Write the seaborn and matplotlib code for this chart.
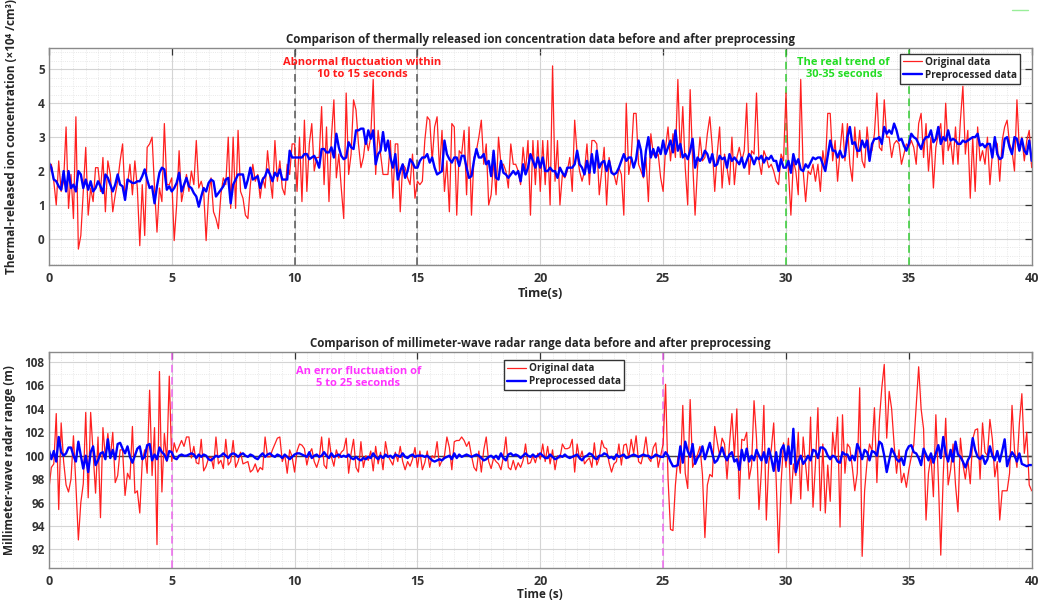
import numpy as np
import matplotlib
matplotlib.use('Agg')
import matplotlib.pyplot as plt
import seaborn as sns
from matplotlib.ticker import MultipleLocator
from matplotlib.lines import Line2D

sns.set_style('white')
plt.rcParams['font.family'] = ['Open Sans', 'DejaVu Sans']
plt.rcParams['font.weight'] = 'bold'
plt.rcParams['axes.labelweight'] = 'bold'

# thermal-released ion concentration, sampled every 0.1 s
ion_original = [
    1.9, 2.2, 1.7, 1.0, 2.3, 1.4, 1.7, 3.3, 0.9, 1.9,
    0.6, 3.6, -0.3, 0.1, 1.4, 2.7, 0.7, 1.5, 1.1, 2.1,
    2.1, 1.4, 2.4, 0.8, 2.3, 1.9, 0.8, 1.3, 1.7, 2.3,
    2.8, 1.2, 1.6, 2.2, 1.3, 2.3, 1.5, -0.2, 1.6, 0.1,
    2.7, 2.8, 3.0, 1.5, 0.2, 1.5, 1.1, 3.4, 1.6, 1.6,
    1.8, -0.05, 1.0, 2.6, 1.1, 1.5, 1.9, 1.4, 2.0, 1.6,
    2.9, 1.5, 1.7, 1.4, -0.05, 1.3, 1.8, 0.8, 0.6, 0.3,
    1.3, 1.8, 1.6, 3.0, 0.9, 3.0, 0.9, 3.2, 1.4, 1.2,
    0.7, 0.6, 1.6, 2.2, 1.7, 1.9, 1.2, 1.8, 1.5, 2.6,
    1.8, 1.2, 2.9, 1.7, 2.3, 1.5, 1.3, 2.2, 1.9, 2.8,
    2.8, 1.4, 3.0, 1.1, 3.5, 1.4, 2.8, 3.4, 2.0, 2.4,
    2.4, 3.9, 1.6, 3.3, 1.1, 3.0, 4.1, 1.8, 2.5, 1.5,
    0.6, 4.3, 1.9, 2.5, 4.1, 3.8, 2.8, 2.1, 2.4, 3.0,
    2.6, 3.0, 4.7, 1.9, 3.2, 2.5, 1.9, 1.9, 1.9, 2.9,
    1.2, 2.8, 2.8, 0.8, 2.2, 2.1, 1.8, 1.6, 2.5, 1.2,
    1.7, 1.6, 1.7, 2.9, 3.6, 3.5, 2.3, 3.3, 3.6, 2.0,
    3.2, 1.4, 2.3, 0.8, 3.4, 3.3, 0.7, 2.6, 2.5, 3.2,
    1.3, 3.3, 0.7, 2.4, 2.6, 3.0, 3.5, 2.2, 2.8, 1.0,
    1.3, 2.3, 1.3, 3.0, 2.2, 2.2, 2.0, 1.5, 2.8, 2.2,
    2.2, 2.0, 1.6, 2.7, 2.0, 2.9, 0.7, 2.9, 1.6, 2.9,
    1.4, 2.9, 1.6, 2.9, 1.0, 5.1, 1.7, 2.9, 1.0, 1.9,
    1.8, 2.0, 2.4, 1.4, 3.5, 2.5, 2.0, 1.7, 2.0, 2.8,
    1.6, 2.9, 2.9, 2.8, 1.3, 2.0, 2.7, 1.0, 2.4, 2.0,
    1.9, 1.6, 2.1, 1.9, 0.7, 4.0, 1.9, 2.4, 3.7, 3.7,
    2.2, 2.0, 1.8, 2.4, 1.1, 3.1, 2.5, 2.4, 2.5, 1.8,
    1.4, 2.7, 3.3, 2.3, 3.1, 2.4, 4.7, 2.4, 3.9, 2.1,
    1.0, 4.4, 2.3, 0.7, 2.1, 3.0, 2.3, 2.4, 3.1, 3.6,
    2.7, 1.4, 2.5, 3.3, 1.5, 2.5, 2.1, 1.6, 3.0, 1.6,
    2.4, 2.7, 2.3, 2.6, 4.0, 1.9, 2.6, 2.5, 4.3, 2.3,
    1.9, 2.6, 2.4, 2.1, 2.2, 2.0, 1.7, 1.6, 2.5, 2.3,
    4.3, 2.0, 0.7, 2.3, 2.0, 1.3, 4.7, 2.0, 1.1, 2.0,
    1.9, 2.2, 1.7, 2.2, 1.4, 2.6, 2.1, 3.7, 3.7, 2.3,
    2.9, 1.7, 2.6, 3.4, 2.3, 3.4, 2.2, 1.7, 3.3, 2.4,
    3.2, 2.3, 2.1, 3.3, 2.5, 2.6, 3.1, 4.3, 2.7, 2.6,
    4.1, 3.0, 3.0, 2.4, 2.8, 2.9, 2.8, 2.2, 2.5, 2.8,
    2.7, 2.9, 2.7, 2.2, 3.4, 3.7, 2.4, 3.4, 2.0, 3.0,
    1.5, 2.7, 3.1, 3.4, 2.2, 4.0, 2.6, 2.9, 2.2, 3.3,
    2.2, 3.5, 4.5, 2.5, 3.2, 1.2, 3.0, 1.4, 3.3, 2.3,
    2.6, 2.2, 3.0, 1.6, 2.5, 2.9, 2.8, 1.7, 2.9, 3.3,
    3.5, 2.8, 2.6, 2.0, 4.1, 2.6, 3.0, 2.3, 2.9, 3.2,
    2.1]

ion_processed = [
    2.25, 2.1, 1.75, 1.7, 1.55, 1.45, 2.0, 1.4, 2.0, 1.5,
    1.6, 1.4, 2.0, 1.9, 1.5, 1.75, 1.45, 1.7, 1.4, 1.5,
    1.7, 1.55, 1.35, 1.9, 1.8, 1.6, 1.4, 1.6, 1.9, 1.6,
    1.55, 1.15, 1.75, 1.7, 1.65, 1.65, 1.7, 1.7, 1.85, 2.05,
    1.75, 1.5, 1.55, 1.05, 1.55, 1.95, 2.1, 2.05, 1.45, 1.55,
    1.4, 1.5, 1.65, 1.95, 1.4, 1.6, 1.8, 1.55, 1.5, 1.35,
    1.25, 0.95, 1.25, 1.5, 1.4, 1.65, 1.75, 1.7, 1.25, 1.35,
    1.45, 1.55, 1.75, 1.8, 1.05, 1.6, 1.75, 1.9, 1.9, 1.9,
    1.5, 1.75, 2.1, 1.75, 1.8, 1.85, 1.5, 1.75, 1.85, 2.05,
    1.9, 1.7, 1.95, 1.85, 2.05, 1.75, 1.75, 1.75, 2.6, 2.4,
    2.4, 2.4, 2.4, 2.4, 2.5, 2.5, 2.35, 2.4, 2.45, 2.3,
    2.1, 2.65, 2.65, 2.55, 2.55, 2.7, 2.4, 3.1, 2.7, 2.45,
    2.35, 2.4, 2.85, 2.7, 2.65, 3.2, 3.2, 3.25, 3.25, 2.8,
    3.2, 2.95, 3.2, 2.2, 2.5, 2.6, 3.15, 2.6, 2.9, 2.4,
    2.1, 2.5, 1.75, 2.0, 2.2, 1.8, 2.0, 2.35, 2.25, 2.1,
    2.1, 2.3, 2.4, 2.4, 2.5, 2.25, 2.4, 2.1, 1.9, 1.95,
    2.0, 2.9, 2.5, 2.35, 2.25, 2.4, 2.4, 2.15, 2.45, 2.45,
    2.1, 1.8, 1.85, 2.3, 2.65, 2.4, 2.4, 2.5, 2.2, 2.3,
    1.85, 2.6, 1.8, 1.75, 2.3, 1.95, 1.9, 1.8, 1.9, 2.0,
    1.9, 2.0, 1.7, 2.2, 1.9, 2.1, 2.5, 2.3, 2.1, 2.4,
    2.1, 2.4, 2.0, 2.0, 2.1, 2.0, 2.0, 1.8, 2.1, 1.95,
    1.85, 2.1, 2.1, 2.1, 2.2, 2.6, 2.2, 2.1, 1.9, 2.3,
    1.95, 2.5, 1.95, 2.6, 2.1, 2.25, 2.3, 2.0, 2.3, 1.95,
    1.9, 1.95, 2.1, 2.3, 2.5, 2.3, 2.4, 2.4, 2.1, 2.35,
    2.9, 2.6, 1.85, 2.6, 3.0, 2.4, 2.65, 2.4, 2.7, 2.5,
    2.9, 2.5, 2.7, 2.9, 2.55, 3.2, 2.6, 2.8, 2.4, 2.5,
    2.35, 2.6, 2.95, 2.1, 2.4, 2.3, 2.4, 2.6, 2.5, 2.25,
    2.5, 2.15, 2.2, 2.45, 2.35, 2.4, 2.1, 2.5, 2.3, 2.4,
    2.3, 2.2, 2.4, 2.1, 2.3, 2.5, 2.4, 2.2, 2.4, 2.35,
    2.45, 2.25, 2.4, 2.35, 2.45, 2.3, 2.3, 2.0, 2.35, 2.1,
    2.1, 2.3, 1.95, 2.5, 2.2, 2.35, 2.05, 2.0, 2.2, 2.1,
    2.25, 2.4, 2.35, 2.4, 2.4, 2.2, 2.0, 2.45, 2.9, 2.6,
    2.6, 2.4, 2.6, 2.4, 2.45, 3.0, 3.3, 2.8, 2.85, 2.6,
    2.6, 2.9, 2.7, 2.9, 2.3, 2.8, 2.95, 2.95, 3.0, 2.8,
    3.3, 3.1, 3.2, 3.1, 3.4, 3.2, 2.9, 2.95, 2.75, 2.6,
    2.8, 3.1, 3.0, 2.95, 2.8, 2.65, 2.9, 3.0, 3.0, 3.2,
    2.85, 2.95, 3.3, 2.8, 3.0, 2.9, 3.2, 2.9, 2.95, 2.9,
    2.8, 2.8, 2.9, 2.85, 2.9, 2.95, 3.0, 3.0, 3.1, 2.75,
    2.8, 2.7, 2.8, 2.8, 2.4, 3.0, 2.5, 2.35, 2.4, 2.95,
    3.0, 2.7, 2.5, 3.0, 2.95, 2.6, 2.95, 2.6, 2.5, 2.9,
    2.3]

# millimeter-wave radar range, sampled every 0.1 s
radar_original = [
    97.1, 99.0, 99.3, 103.6, 95.4, 102.8, 99.5, 97.5, 96.9, 98.0,
    101.7, 97.5, 92.8, 96.0, 97.6, 103.7, 96.4, 103.7, 100.3, 96.8,
    101.6, 94.7, 102.4, 99.8, 101.9, 99.8, 102.0, 97.7, 98.3, 100.5,
    100.5, 96.6, 98.5, 98.0, 102.5, 96.8, 97.0, 95.1, 99.5, 100.5,
    98.5, 105.6, 98.3, 102.4, 92.4, 107.2, 96.9, 101.9, 99.5, 106.8,
    99.5, 101.1, 100.3, 100.8, 101.3, 100.8, 101.6, 101.6, 99.8, 100.8,
    99.4, 99.3, 101.4, 98.7, 99.1, 99.8, 99.9, 98.9, 101.6, 99.3,
    99.6, 98.9, 101.4, 99.2, 99.5, 101.3, 99.0, 99.5, 100.3, 99.3,
    99.4, 99.5, 98.6, 98.8, 99.3, 98.6, 99.0, 98.8, 101.6, 99.9,
    99.9, 100.5, 101.0, 101.5, 101.6, 99.5, 100.1, 98.5, 100.5, 99.9,
    98.6, 100.4, 101.0, 100.9, 100.6, 99.2, 100.2, 100.6, 99.5, 99.0,
    99.7, 101.6, 99.2, 98.9, 101.5, 99.9, 99.1, 100.5, 99.8, 100.3,
    100.5, 101.5, 98.5, 100.2, 101.4, 99.0, 98.6, 101.2, 99.0, 100.0,
    99.6, 100.4, 98.7, 100.8, 99.3, 100.3, 98.8, 101.2, 100.0, 99.6,
    99.2, 100.3, 99.5, 100.8, 99.5, 98.8, 99.5, 99.1, 99.7, 100.7,
    99.0, 100.4, 98.8, 99.4, 100.4, 99.0, 100.0, 99.8, 101.2, 99.1,
    99.6, 100.0, 101.6, 100.7, 98.8, 101.2, 101.3, 101.3, 101.6, 101.3,
    100.8, 101.2, 100.0, 99.0, 98.7, 100.4, 98.6, 100.5, 101.6, 99.5,
    98.9, 99.8, 99.5, 99.3, 98.8, 99.9, 101.6, 99.0, 98.8, 99.6,
    98.8, 99.4, 99.0, 99.6, 101.0, 99.3, 99.4, 100.0, 99.4, 100.2,
    99.7, 101.0, 99.5, 100.8, 99.3, 100.5, 98.8, 100.0, 99.8, 101.0,
    100.6, 100.6, 100.7, 101.4, 98.6, 101.0, 99.7, 100.4, 99.3, 99.6,
    99.8, 99.0, 101.1, 99.2, 99.8, 101.3, 100.7, 100.6, 99.4, 98.6,
    99.3, 99.5, 101.0, 99.2, 100.9, 101.0, 99.8, 101.4, 100.2, 101.7,
    99.5, 99.3, 100.2, 101.6, 99.8, 99.5, 100.7, 101.1, 99.0, 100.0,
    101.0, 106.1, 98.0, 93.7, 93.6, 97.5, 99.9, 98.5, 104.3, 98.5,
    97.2, 104.8, 99.0, 99.6, 100.1, 100.8, 98.4, 93.0, 97.5, 98.4,
    98.2, 102.5, 101.2, 100.0, 101.5, 101.0, 98.0, 101.0, 103.6, 100.0,
    104.0, 96.3, 101.4, 101.3, 102.0, 98.0, 99.2, 104.7, 101.5, 95.4,
    98.7, 104.3, 94.5, 99.5, 100.5, 102.8, 98.0, 91.7, 97.6, 101.1,
    99.0, 101.5, 95.9, 99.3, 98.3, 102.0, 96.3, 101.6, 99.2, 97.0,
    103.3, 95.6, 99.3, 104.1, 95.3, 101.0, 95.1, 99.2, 96.1, 102.0,
    100.0, 103.3, 93.9, 103.5, 98.5, 101.0, 100.7, 99.0, 97.0, 98.5,
    105.8, 91.4, 97.0, 99.5, 101.0, 100.4, 104.1, 97.7, 103.0, 105.8,
    107.8, 101.5, 105.5, 104.0, 101.0, 98.5, 100.5, 97.7, 98.5, 97.3,
    98.8, 99.9, 100.9, 104.2, 107.6, 104.0, 102.3, 94.5, 98.5, 100.0,
    96.5, 103.5, 98.1, 91.5, 98.3, 103.2, 97.5, 98.8, 101.0, 97.5,
    95.2, 101.5, 99.3, 98.0, 99.7, 97.6, 101.4, 102.2, 102.3, 98.0,
    102.8, 100.3, 100.0, 103.1, 101.4, 98.2, 99.5, 94.5, 97.0, 97.0,
    97.0, 98.5, 104.3, 100.5, 99.0, 102.8, 105.3, 100.2, 102.0, 97.5,
    97.0]

radar_processed = [
    100.5, 99.7, 100.4, 99.5, 101.6, 100.3, 100.0, 100.2, 100.7, 100.7,
    100.0, 99.5, 101.2, 100.0, 98.9, 100.0, 98.6, 100.3, 100.8, 99.2,
    99.6, 100.2, 100.3, 99.7, 101.4, 99.8, 100.5, 99.7, 101.0, 101.1,
    100.6, 100.2, 100.8, 99.9, 99.4, 100.0, 100.6, 100.8, 99.7, 99.9,
    100.9, 101.0, 99.6, 100.1, 99.7, 100.7, 100.3, 100.1, 99.6, 100.4,
    100.3, 99.8, 99.7, 100.0, 100.1, 100.0, 100.0, 100.1, 100.2, 100.1,
    99.8, 100.1, 99.9, 100.1, 100.0, 99.7, 99.6, 99.8, 100.0, 99.9,
    100.0, 100.2, 100.0, 99.8, 100.1, 100.2, 100.1, 99.9, 100.1, 100.2,
    100.0, 99.9, 100.1, 100.0, 99.8, 99.7, 100.0, 100.2, 99.9, 100.1,
    100.2, 100.0, 99.9, 100.1, 100.0, 99.8, 100.1, 99.9, 99.7, 99.9,
    100.1, 100.2, 100.2, 100.1, 100.0, 99.9, 100.3, 99.8, 100.0, 100.1,
    99.9, 100.0, 100.3, 100.0, 99.8, 100.2, 99.9, 100.0, 100.1, 99.9,
    100.0, 99.9, 100.1, 99.8, 99.7, 99.9, 99.7, 99.6, 99.8, 99.7,
    99.9, 99.8, 100.2, 99.9, 99.7, 100.0, 99.8, 100.1, 99.9, 100.0,
    99.8, 100.1, 100.0, 99.9, 100.2, 99.9, 99.8, 100.0, 100.1, 99.9,
    100.0, 100.0, 100.0, 99.9, 100.0, 99.8, 99.6, 99.5, 99.6, 99.7,
    99.6, 99.8, 99.9, 100.0, 99.7, 100.2, 99.8, 100.1, 99.9, 100.0,
    100.1, 100.0, 99.9, 100.0, 100.1, 100.0, 99.8, 99.6, 99.7, 99.9,
    100.0, 99.8, 100.0, 99.7, 100.2, 99.8, 99.6, 100.1, 100.2, 100.0,
    100.1, 100.0, 99.8, 100.0, 100.2, 100.0, 99.9, 100.1, 99.9, 100.0,
    100.2, 100.0, 99.8, 99.8, 100.1, 99.9, 99.7, 99.8, 100.0, 99.9,
    100.1, 99.9, 99.8, 99.9, 100.0, 100.1, 99.8, 99.6, 99.9, 100.0,
    100.2, 100.1, 99.8, 99.7, 100.0, 100.0, 100.2, 100.1, 99.8, 99.9,
    99.7, 100.1, 99.9, 100.0, 100.1, 99.8, 99.9, 100.0, 100.1, 100.0,
    99.9, 100.0, 100.1, 100.0, 100.0, 99.8, 99.9, 100.1, 100.0, 99.9,
    99.9, 100.3, 100.0, 99.5, 99.1, 99.1, 99.2, 100.8, 99.4, 101.2,
    100.4, 99.9, 101.0, 99.3, 99.8, 100.1, 100.8, 99.7, 100.4, 101.1,
    100.2, 99.4, 99.6, 100.1, 100.7, 100.0, 99.6, 100.1, 100.3, 99.5,
    99.7, 98.8, 100.5, 99.6, 100.6, 99.5, 100.0, 99.6, 100.5, 100.0,
    99.6, 100.3, 99.4, 100.6, 99.8, 98.7, 100.3, 98.7, 100.5, 100.9,
    99.6, 100.8, 99.3, 102.3, 98.6, 99.5, 100.0, 99.3, 99.6, 100.0,
    99.6, 100.5, 100.4, 99.8, 100.7, 100.7, 100.5, 100.0, 99.7, 100.0,
    99.9, 99.5, 99.4, 100.3, 100.1, 100.1, 99.6, 100.0, 99.6, 101.0,
    100.5, 99.7, 100.5, 100.3, 99.6, 100.4, 100.3, 100.0, 101.2, 101.0,
    100.0, 98.6, 99.6, 100.6, 100.2, 99.7, 99.5, 99.8, 99.2, 100.4,
    100.8, 100.9, 100.3, 100.2, 99.8, 99.2, 100.6, 100.1, 99.6, 100.2,
    99.4, 100.2, 100.9, 99.8, 101.6, 100.2, 99.5, 100.5, 99.5, 101.2,
    100.1, 99.9, 99.5, 99.0, 99.6, 100.0, 101.5, 100.5, 99.9, 99.7,
    100.0, 99.3, 99.7, 100.8, 100.0, 99.6, 100.4, 99.5, 100.4, 101.4,
    99.1, 99.8, 100.3, 100.0, 99.5, 100.2, 99.3, 99.2, 99.1, 99.2,
    99.2]

sample_step = 0.1
red = '#ff2020'
blue = '#0000ff'


def time_axis(values):
    return np.round(np.arange(len(values)) * sample_step, 2)


def style_axes(ax, ymajor, yminor, ylim):
    ax.set_xlim(0, 40)
    ax.set_ylim(*ylim)
    ax.xaxis.set_major_locator(MultipleLocator(5))
    ax.xaxis.set_minor_locator(MultipleLocator(0.5))
    ax.yaxis.set_major_locator(MultipleLocator(ymajor))
    ax.yaxis.set_minor_locator(MultipleLocator(yminor))
    ax.grid(which='major', color='#d4d4d4', lw=0.8)
    ax.grid(which='minor', color='#e2e2e2', lw=0.6, ls=':')
    ax.set_axisbelow(True)
    ax.tick_params(which='both', direction='in', top=True, right=True,
                   labelsize=9, colors='#333333')
    ax.tick_params(axis='x', pad=5)
    ax.tick_params(axis='y', pad=3, labelsize=8.5)
    ax.tick_params(which='major', length=5, width=0.9)
    ax.tick_params(which='minor', length=0)
    for s in ax.spines.values():
        s.set_color('#8a8a8a')
        s.set_linewidth(1.0)


fig = plt.figure(figsize=(10.4, 6.03), dpi=100)
ax1 = fig.add_axes([0.047, 0.561, 0.945, 0.359])
ax2 = fig.add_axes([0.047, 0.058, 0.945, 0.358])

# ---- top panel
sns.lineplot(x=time_axis(ion_original), y=ion_original, ax=ax1, color=red,
             lw=0.9, label='Original data', estimator=None)
sns.lineplot(x=time_axis(ion_processed), y=ion_processed, ax=ax1, color=blue,
             lw=1.7, label='Preprocessed data', estimator=None)
style_axes(ax1, 1, 0.25, (-0.76, 5.62))
for xv in (10, 15):
    ax1.axvline(xv, color='#555555', ls=(0, (5, 3)), lw=1.1, zorder=1.5)
for xv in (30, 35):
    ax1.axvline(xv, color='#33cc33', ls=(0, (5, 3)), lw=1.1, zorder=1.5)
ax1.text(12.75, 5.03, 'Abnormal fluctuation within\n10 to 15 seconds',
         ha='center', va='center', color='#ff1a1a', fontsize=8, fontweight='bold',
         linespacing=1.15)
ax1.text(32.35, 5.03, 'The real trend of\n30-35 seconds',
         ha='center', va='center', color='#22dd22', fontsize=8, fontweight='bold',
         linespacing=1.15)
ax1.set_title('Comparison of thermally released ion concentration data before and after preprocessing',
              fontsize=8.3, fontweight='bold', pad=4)
ax1.set_xlabel('Time(s)', fontsize=9, fontweight='bold', labelpad=2)
ax1.set_ylabel('Thermal-released ion concentration (×10⁴ /cm³)', fontsize=8.5,
               fontweight='bold')
ax1.yaxis.set_label_coords(-0.031, 0.59)
ax1.legend(loc='upper right', bbox_to_anchor=(0.988, 0.975), fontsize=7.2,
           frameon=True, fancybox=False, edgecolor='#333333', framealpha=1,
           handlelength=1.9, borderpad=0.3, labelspacing=0.2, handletextpad=0.3,
           borderaxespad=0)

# ---- bottom panel
ax2.axhline(100, color='#444444', lw=1.0, zorder=1.5)
sns.lineplot(x=time_axis(radar_original), y=radar_original, ax=ax2, color=red,
             lw=0.9, label='Original data', estimator=None)
sns.lineplot(x=time_axis(radar_processed), y=radar_processed, ax=ax2, color=blue,
             lw=1.7, label='Preprocessed data', estimator=None)
style_axes(ax2, 2, 1, (90.4, 108.85))
for xv in (5, 25):
    ax2.axvline(xv, color='#ee66ee', ls=(0, (5, 3)), lw=1.1, zorder=1.5)
ax2.text(12.6, 106.7, 'An error fluctuation of\n5 to 25 seconds',
         ha='center', va='center', color='#ff33ff', fontsize=8, fontweight='bold',
         linespacing=1.15)
ax2.set_title('Comparison of millimeter-wave radar range data before and after preprocessing',
              fontsize=8.3, fontweight='bold', pad=4)
ax2.set_xlabel('Time (s)', fontsize=8.5, fontweight='bold', labelpad=0)
ax2.set_ylabel('Millimeter-wave radar range (m)', fontsize=8.5, fontweight='bold')
ax2.yaxis.set_label_coords(-0.033, 0.5)
ax2.legend(loc='upper left', bbox_to_anchor=(0.463, 0.962), fontsize=7.2,
           frameon=True, fancybox=False, edgecolor='#333333', framealpha=1,
           handlelength=1.9, borderpad=0.3, labelspacing=0.2, handletextpad=0.3,
           borderaxespad=0)

fig.add_artist(Line2D([0.973, 0.988], [0.983, 0.983], transform=fig.transFigure,
                      color='#99ee99', lw=1))

fig.savefig('out.png', dpi=100)
